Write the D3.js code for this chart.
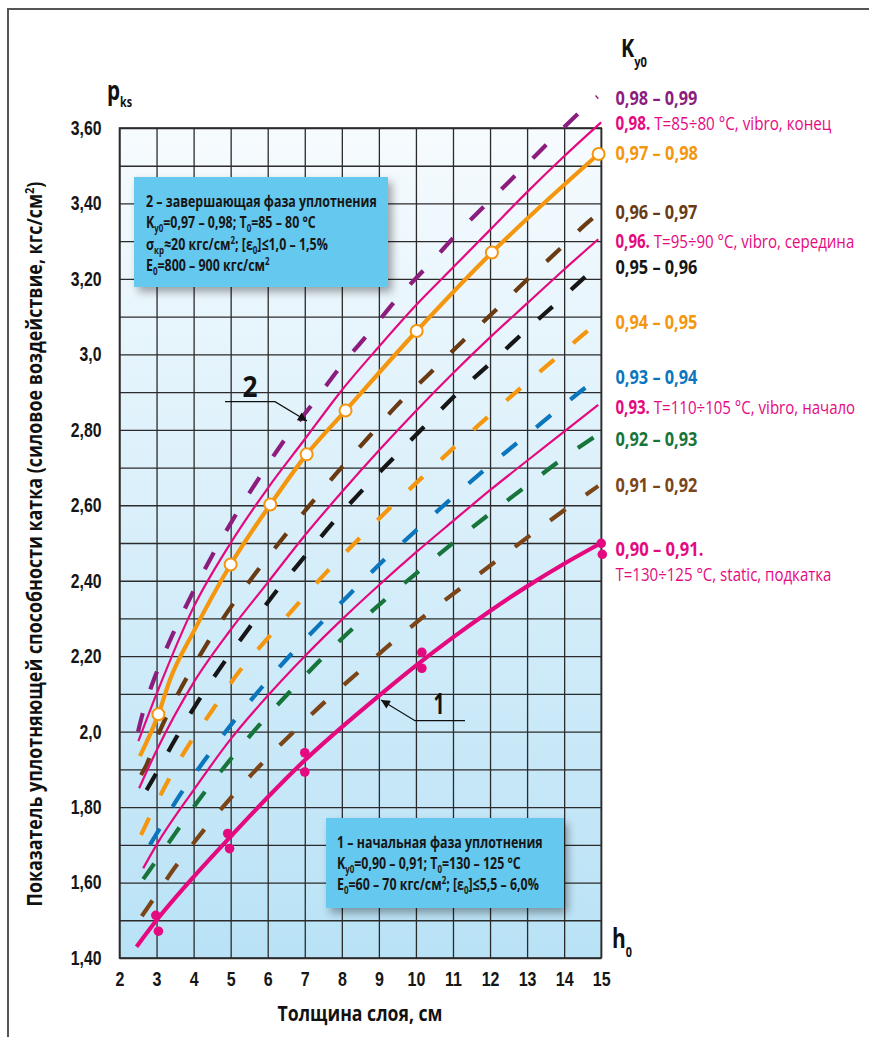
<!DOCTYPE html>
<html>
<head>
<meta charset="utf-8">
<script src="https://cdn.jsdelivr.net/npm/d3@7"></script>
<style>
body { margin: 0; background: #fff; }
svg { display: block; font-family: "Open Sans", Roboto, sans-serif; }
</style>
</head>
<body>
<svg width="869" height="1037"></svg>
<script>
// ---- data ----
var hTicks = [2, 3, 4, 5, 6, 7, 8, 9, 10, 11, 12, 13, 14, 15];
var pGrid = [1.4, 1.5, 1.6, 1.7, 1.8, 1.9, 2.0, 2.1, 2.2, 2.3, 2.4, 2.5, 2.6, 2.7, 2.8, 2.9, 3.0, 3.1, 3.2, 3.3, 3.4, 3.5, 3.6];
var pTickValues = [1.4, 1.6, 1.8, 2.0, 2.2, 2.4, 2.6, 2.8, 3.0, 3.2, 3.4, 3.6];
var pTickLabels = ["1,40", "1,60", "1,80", "2,0", "2,20", "2,40", "2,60", "2,80", "3,0", "3,20", "3,40", "3,60"];

// dashed curves, K ranges
var k9899 = [[2.5,2.0],[2.62,2.046],[3.01,2.159],[3.47,2.265],[3.99,2.371],[4.56,2.477],[5.17,2.58],[5.83,2.682],[6.51,2.781],[7.19,2.866],[7.97,2.968],[8.76,3.06],[9.54,3.153],[10.38,3.241],[11.2,3.329],[12.05,3.413],[12.91,3.496],[13.77,3.58],[14.66,3.663],[14.9,3.683]];
var k9697 = [[2.58,1.885],[2.68,1.902],[3.08,2.0],[3.61,2.106],[4.22,2.21],[4.87,2.311],[5.58,2.408],[6.32,2.502],[7.09,2.595],[7.86,2.685],[8.69,2.777],[9.5,2.866],[10.37,2.949],[11.24,3.033],[12.12,3.114],[12.99,3.197],[13.87,3.278],[14.75,3.359],[15,3.378]];
var k9596 = [[2.73,1.845],[2.89,1.872],[3.49,1.977],[4.11,2.079],[4.79,2.179],[5.5,2.275],[6.22,2.371],[6.99,2.463],[7.78,2.556],[8.63,2.648],[9.44,2.73],[10.29,2.815],[11.15,2.9],[12.05,2.98],[12.94,3.061],[13.84,3.14],[14.74,3.22],[15,3.241]];
var k9495 = [[2.58,1.726],[2.7,1.751],[3.22,1.853],[3.82,1.957],[4.5,2.056],[5.22,2.158],[5.98,2.245],[6.79,2.336],[7.6,2.424],[8.45,2.51],[9.31,2.594],[10.19,2.676],[11.07,2.757],[11.97,2.837],[12.89,2.916],[13.81,2.993],[14.73,3.07],[15,3.091]];
var k9394 = [[2.82,1.70],[2.98,1.726],[3.61,1.829],[4.31,1.926],[5.04,2.022],[5.82,2.115],[6.65,2.207],[7.47,2.291],[8.32,2.375],[9.17,2.458],[10.08,2.54],[10.97,2.619],[11.89,2.697],[12.83,2.773],[13.76,2.848],[14.73,2.923],[15,2.942]];
var k9293 = [[2.64,1.609],[2.82,1.634],[3.51,1.731],[4.2,1.827],[4.95,1.921],[5.75,2.015],[6.57,2.103],[7.42,2.19],[8.28,2.272],[9.18,2.351],[10.11,2.428],[11.06,2.505],[12.0,2.578],[12.97,2.65],[13.94,2.722],[14.8,2.78]];
var k9192 = [[2.6,1.511],[2.79,1.538],[3.46,1.635],[4.21,1.731],[4.98,1.822],[5.8,1.911],[6.66,1.996],[7.52,2.077],[8.44,2.157],[9.37,2.237],[10.3,2.312],[11.26,2.384],[12.23,2.457],[13.2,2.529],[14.17,2.599],[14.92,2.651]];

// solid curves, K values
var k98 = [[2.51,1.975],[3,2.10],[4,2.33],[5,2.50],[6,2.645],[7,2.775],[8,2.905],[9,3.02],[10,3.13],[11,3.23],[12,3.33],[13,3.43],[14,3.525],[15,3.615]];
var k96 = [[2.53,1.85],[3,1.95],[4,2.13],[5,2.27],[6,2.395],[7,2.52],[8,2.635],[9,2.745],[10,2.85],[11,2.95],[12,3.045],[13,3.135],[14,3.225],[14.92,3.305]];
var k93 = [[2.64,1.638],[3,1.70],[4,1.845],[5,1.98],[6,2.095],[7,2.20],[8,2.297],[9,2.388],[10,2.475],[11,2.558],[12,2.64],[13,2.718],[14,2.795],[14.92,2.866]];

// curve 2 (final phase) and its measured points, curve 1 (initial phase) and its points
var phase2 = [[2.55,1.935],[3.05,2.046],[3.36,2.137],[4,2.265],[5.0,2.443],[6.07,2.602],[7.05,2.735],[8.1,2.851],[10.02,3.062],[12.05,3.27],[14.93,3.531]];
var phase2Points = [[3.05,2.046],[5.0,2.443],[6.07,2.602],[7.05,2.735],[8.1,2.851],[10.02,3.062],[12.05,3.27],[14.93,3.531]];
var phase1 = [[2.46,1.43],[3,1.50],[4,1.615],[5,1.722],[6,1.826],[7,1.924],[8,2.012],[9,2.095],[10,2.175],[11,2.25],[12,2.32],[13,2.385],[14,2.445],[15,2.50]];
var phase1Points = [[2.98,1.513],[3.05,1.471],[4.92,1.73],[4.97,1.69],[7.0,1.944],[7.0,1.893],[10.16,2.21],[10.16,2.168],[15.0,2.499],[15.03,2.47]];

// ---- layout ----
var svg = d3.select("svg");
var L = 119.5, R = 601.2, T = 128, B = 958;
var x = d3.scaleLinear().domain([2, 15]).range([L, R]);
var y = d3.scaleLinear().domain([1.4, 3.6]).range([B, T]);

var PINK = "#e5097f", PURPLE = "#8c1d7f", ORANGE = "#f5960f", BROWN = "#6a3b13",
    BROWN2 = "#7b4518", BLACK = "#161616", BLUE = "#0b76bd", GREEN = "#17743b", INK = "#161616";

// condensed text: build the text at the origin, then squeeze it to the wanted width
function squeeze(parent, tf, width, anchor, build) {
  var g = parent.append("g").attr("transform", tf);
  var t = g.append("text").attr("text-anchor", anchor || "start");
  build(t);
  var w = t.node().getComputedTextLength();
  g.attr("transform", tf + " scale(" + (width / w) + ",1)");
  return g;
}

var defs = svg.append("defs");
var grad = defs.append("linearGradient").attr("id", "bg").attr("x1", 0).attr("y1", 0).attr("x2", 0).attr("y2", 1);
grad.append("stop").attr("offset", 0).attr("stop-color", "#f6fbfe");
grad.append("stop").attr("offset", 1).attr("stop-color", "#b9e2f6");
var sh = defs.append("filter").attr("id", "shadow").attr("x", -0.1).attr("y", -0.1).attr("width", 1.3).attr("height", 1.4);
sh.append("feDropShadow").attr("dx", 4).attr("dy", 5).attr("stdDeviation", 4).attr("flood-color", "#000").attr("flood-opacity", 0.35);
defs.append("marker").attr("id", "arrow").attr("viewBox", "0 0 10 10").attr("refX", 10).attr("refY", 5)
  .attr("markerWidth", 14).attr("markerHeight", 9).attr("markerUnits", "userSpaceOnUse").attr("orient", "auto")
  .append("path").attr("d", "M0,0L10,5L0,10Z").attr("fill", "#111");

// outer frame
svg.append("path").attr("d", "M8,1040V9H870").attr("fill", "none").attr("stroke", "#555").attr("stroke-width", 2);

// plot background
svg.append("rect").attr("x", L).attr("y", T).attr("width", R - L).attr("height", B - T).attr("fill", "url(#bg)");

// grid via axes
svg.append("g").attr("transform", "translate(0," + B + ")")
  .call(d3.axisBottom(x).tickValues(hTicks).tickSize(-(B - T)).tickFormat(""))
  .call(function(g) { g.select(".domain").remove(); g.selectAll("line").attr("stroke", "#2b2b2b").attr("stroke-width", 1.3); });
svg.append("g").attr("transform", "translate(" + L + ",0)")
  .call(d3.axisLeft(y).tickValues(pGrid).tickSize(-(R - L)).tickFormat(""))
  .call(function(g) { g.select(".domain").remove(); g.selectAll("line").attr("stroke", "#2b2b2b").attr("stroke-width", 1.3); });
svg.append("rect").attr("x", L).attr("y", T).attr("width", R - L).attr("height", B - T)
  .attr("fill", "none").attr("stroke", "#2b2b2b").attr("stroke-width", 1.6);

// tick labels
svg.append("g").attr("transform", "translate(" + L + ",0)")
  .call(d3.axisLeft(y).tickValues(pTickValues).tickSize(0)
    .tickFormat(function(d, i) { return pTickLabels[i]; }))
  .call(function(g) {
    g.select(".domain").remove();
    g.selectAll("text").attr("font-size", 20).attr("font-weight", "bold").attr("fill", INK)
      .attr("font-family", null).attr("x", 0).attr("transform", "translate(-18,0) scale(0.79,1)");
  });
svg.append("g").attr("transform", "translate(0," + B + ")")
  .call(d3.axisBottom(x).tickValues(hTicks).tickSize(0).tickPadding(14).tickFormat(d3.format("d")))
  .call(function(g) {
    g.select(".domain").remove();
    g.selectAll("text").attr("font-size", 20).attr("font-weight", "bold").attr("fill", INK)
      .attr("font-family", null).attr("transform", "scale(0.8,1)");
  });

// curves
var line = d3.line().x(function(d) { return x(d[0]); }).y(function(d) { return y(d[1]); }).curve(d3.curveMonotoneX);
function drawCurve(data, color, width, dash) {
  svg.append("path").datum(data).attr("d", line).attr("fill", "none")
    .attr("stroke", color).attr("stroke-width", width)
    .attr("stroke-dasharray", dash || null).attr("stroke-linecap", "butt");
}
drawCurve(k9192, BROWN2, 4.2, "19 25");
drawCurve(k9293, GREEN, 4.2, "19 25");
drawCurve(k9394, BLUE, 4.2, "19 25");
drawCurve(k9495, ORANGE, 4.2, "19 25");
drawCurve(k9596, BLACK, 4.2, "19 25");
drawCurve(k9697, BROWN, 4.2, "19 25");
drawCurve(k9899, PURPLE, 4.2, "19 25");
drawCurve(k93, PINK, 2.2);
drawCurve(k96, PINK, 2.2);
drawCurve(k98, PINK, 2.2);
drawCurve(phase1, PINK, 4.2);
drawCurve(phase2, ORANGE, 4.2);

svg.append("g").selectAll("circle").data(phase2Points).join("circle")
  .attr("cx", function(d) { return x(d[0]); }).attr("cy", function(d) { return y(d[1]); })
  .attr("r", 6).attr("fill", "#fff").attr("stroke", ORANGE).attr("stroke-width", 2);
svg.append("g").selectAll("circle").data(phase1Points).join("circle")
  .attr("cx", function(d) { return x(d[0]); }).attr("cy", function(d) { return y(d[1]); })
  .attr("r", 4.8).attr("fill", PINK);

// curve labels with leaders
svg.append("path").attr("d", "M225,401.7H275L307,421").attr("fill", "none").attr("stroke", "#111").attr("stroke-width", 1.3).attr("marker-end", "url(#arrow)");
squeeze(svg, "translate(250,397)", 15, "middle", function(t) {
  t.attr("font-size", 28).attr("font-weight", "bold").attr("fill", "#111").text("2");
});
svg.append("path").attr("d", "M465,720.7H415L381,700").attr("fill", "none").attr("stroke", "#111").attr("stroke-width", 1.3).attr("marker-end", "url(#arrow)");
squeeze(svg, "translate(439,714)", 11, "middle", function(t) {
  t.attr("font-size", 28).attr("font-weight", "bold").attr("fill", "#111").text("1");
});

// info boxes
function infoBox(bx, by, bw, bh, lines, tx, ty0, dy, firstWidth) {
  svg.append("rect").attr("x", bx).attr("y", by).attr("width", bw).attr("height", bh)
    .attr("fill", "#65c8ee").attr("filter", "url(#shadow)");
  var g = svg.append("g").attr("transform", "translate(" + tx + "," + ty0 + ")");
  var texts = lines.map(function(parts, i) {
    var t = g.append("text").attr("y", i * dy).attr("font-size", 16.5).attr("font-weight", "bold").attr("fill", INK);
    parts.forEach(function(p) {
      var s = t.append("tspan").text(p[0]);
      if (p[1] === "sub") s.attr("font-size", 10.5).attr("dy", 4);
      else if (p[1] === "sup") s.attr("font-size", 10.5).attr("dy", -6);
      else if (p[1] === "back") s.attr("dy", -4);
      else if (p[1] === "down") s.attr("dy", 6);
    });
    return t;
  });
  var s = firstWidth / texts[0].node().getComputedTextLength();
  g.attr("transform", "translate(" + tx + "," + ty0 + ") scale(" + s + ",1)");
}
infoBox(134, 177, 254, 110, [
  [["2 – завершающая фаза уплотнения"]],
  [["K"], ["у0", "sub"], ["=0,97 – 0,98; T", "back"], ["0", "sub"], ["=85 – 80 °C", "back"]],
  [["σ"], ["кр", "sub"], ["≈20 кгс/см", "back"], ["2", "sup"], [";  [ε", "down"], ["0", "sub"], ["]≤1,0 – 1,5%", "back"]],
  [["E"], ["0", "sub"], ["=800 – 900 кгс/см", "back"], ["2", "sup"]]
], 146, 207, 21.3, 231);
infoBox(326, 818, 238, 90, [
  [["1 – начальная фаза уплотнения"]],
  [["K"], ["у0", "sub"], ["=0,90 – 0,91; T", "back"], ["0", "sub"], ["=130 – 125 °C", "back"]],
  [["E"], ["0", "sub"], ["=60 – 70 кгс/см", "back"], ["2", "sup"], ["; [ε", "down"], ["0", "sub"], ["]≤5,5 – 6,0%", "back"]]
], 337, 848, 21, 206);

// axis letters
squeeze(svg, "translate(107,100)", 25, "start", function(t) {
  t.attr("font-size", 27).attr("font-weight", "bold").attr("fill", "#111");
  t.append("tspan").text("p");
  t.append("tspan").attr("font-size", 14).attr("dy", 7).text("ks");
});
squeeze(svg, "translate(621,57)", 26, "start", function(t) {
  t.attr("font-size", 25).attr("font-weight", "bold").attr("fill", "#111");
  t.append("tspan").text("K");
  t.append("tspan").attr("font-size", 14).attr("dy", 10).text("y0");
});
squeeze(svg, "translate(612,948)", 20, "start", function(t) {
  t.attr("font-size", 27).attr("font-weight", "bold").attr("fill", "#111");
  t.append("tspan").text("h");
  t.append("tspan").attr("font-size", 14).attr("dy", 9).text("0");
});

// axis titles
squeeze(svg, "translate(360,1021)", 165, "middle", function(t) {
  t.attr("font-size", 21.5).attr("font-weight", "bold").attr("fill", "#111").text("Толщина слоя, см");
});
squeeze(svg, "translate(42,544) rotate(-90)", 725, "middle", function(t) {
  t.attr("font-size", 21).attr("font-weight", "bold").attr("fill", "#111");
  t.append("tspan").text("Показатель уплотняющей способности катка (силовое воздействие, кгс/см");
  t.append("tspan").attr("font-size", 13).attr("dy", -8).text("2");
  t.append("tspan").attr("dy", 8).text(")");
});

// right-hand K labels
var rightLabels = [
  { y: 105, w: 82, c: PURPLE, b: "0,98 – 0,99" },
  { y: 130, w: 216, c: PINK, b: "0,98.", r: " T=85÷80 °C, vibro, конец" },
  { y: 160, w: 82.5, c: ORANGE, b: "0,97 – 0,98" },
  { y: 219, w: 82, c: BROWN, b: "0,96 – 0,97" },
  { y: 248, w: 239, c: PINK, b: "0,96.", r: " T=95÷90 °C, vibro, середина" },
  { y: 274, w: 82, c: BLACK, b: "0,95 – 0,96" },
  { y: 329, w: 82, c: ORANGE, b: "0,94 – 0,95" },
  { y: 384, w: 82, c: BLUE, b: "0,93 – 0,94" },
  { y: 414, w: 240, c: PINK, b: "0,93.", r: " T=110÷105 °C, vibro, начало" },
  { y: 446, w: 82, c: GREEN, b: "0,92 – 0,93" },
  { y: 492, w: 82, c: BROWN2, b: "0,91 – 0,92" },
  { y: 556, w: 88, c: PINK, b: "0,90 – 0,91." },
  { y: 581, w: 216, c: PINK, r: "T=130÷125 °C, static, подкатка" }
];
rightLabels.forEach(function(d) {
  squeeze(svg, "translate(615.5," + d.y + ")", d.w, "start", function(t) {
    t.attr("font-size", 19).attr("fill", d.c);
    if (d.b) t.append("tspan").attr("font-weight", "bold").text(d.b);
    if (d.r) t.append("tspan").attr("font-weight", "normal").text(d.r);
  });
});
</script>
</body>
</html>
